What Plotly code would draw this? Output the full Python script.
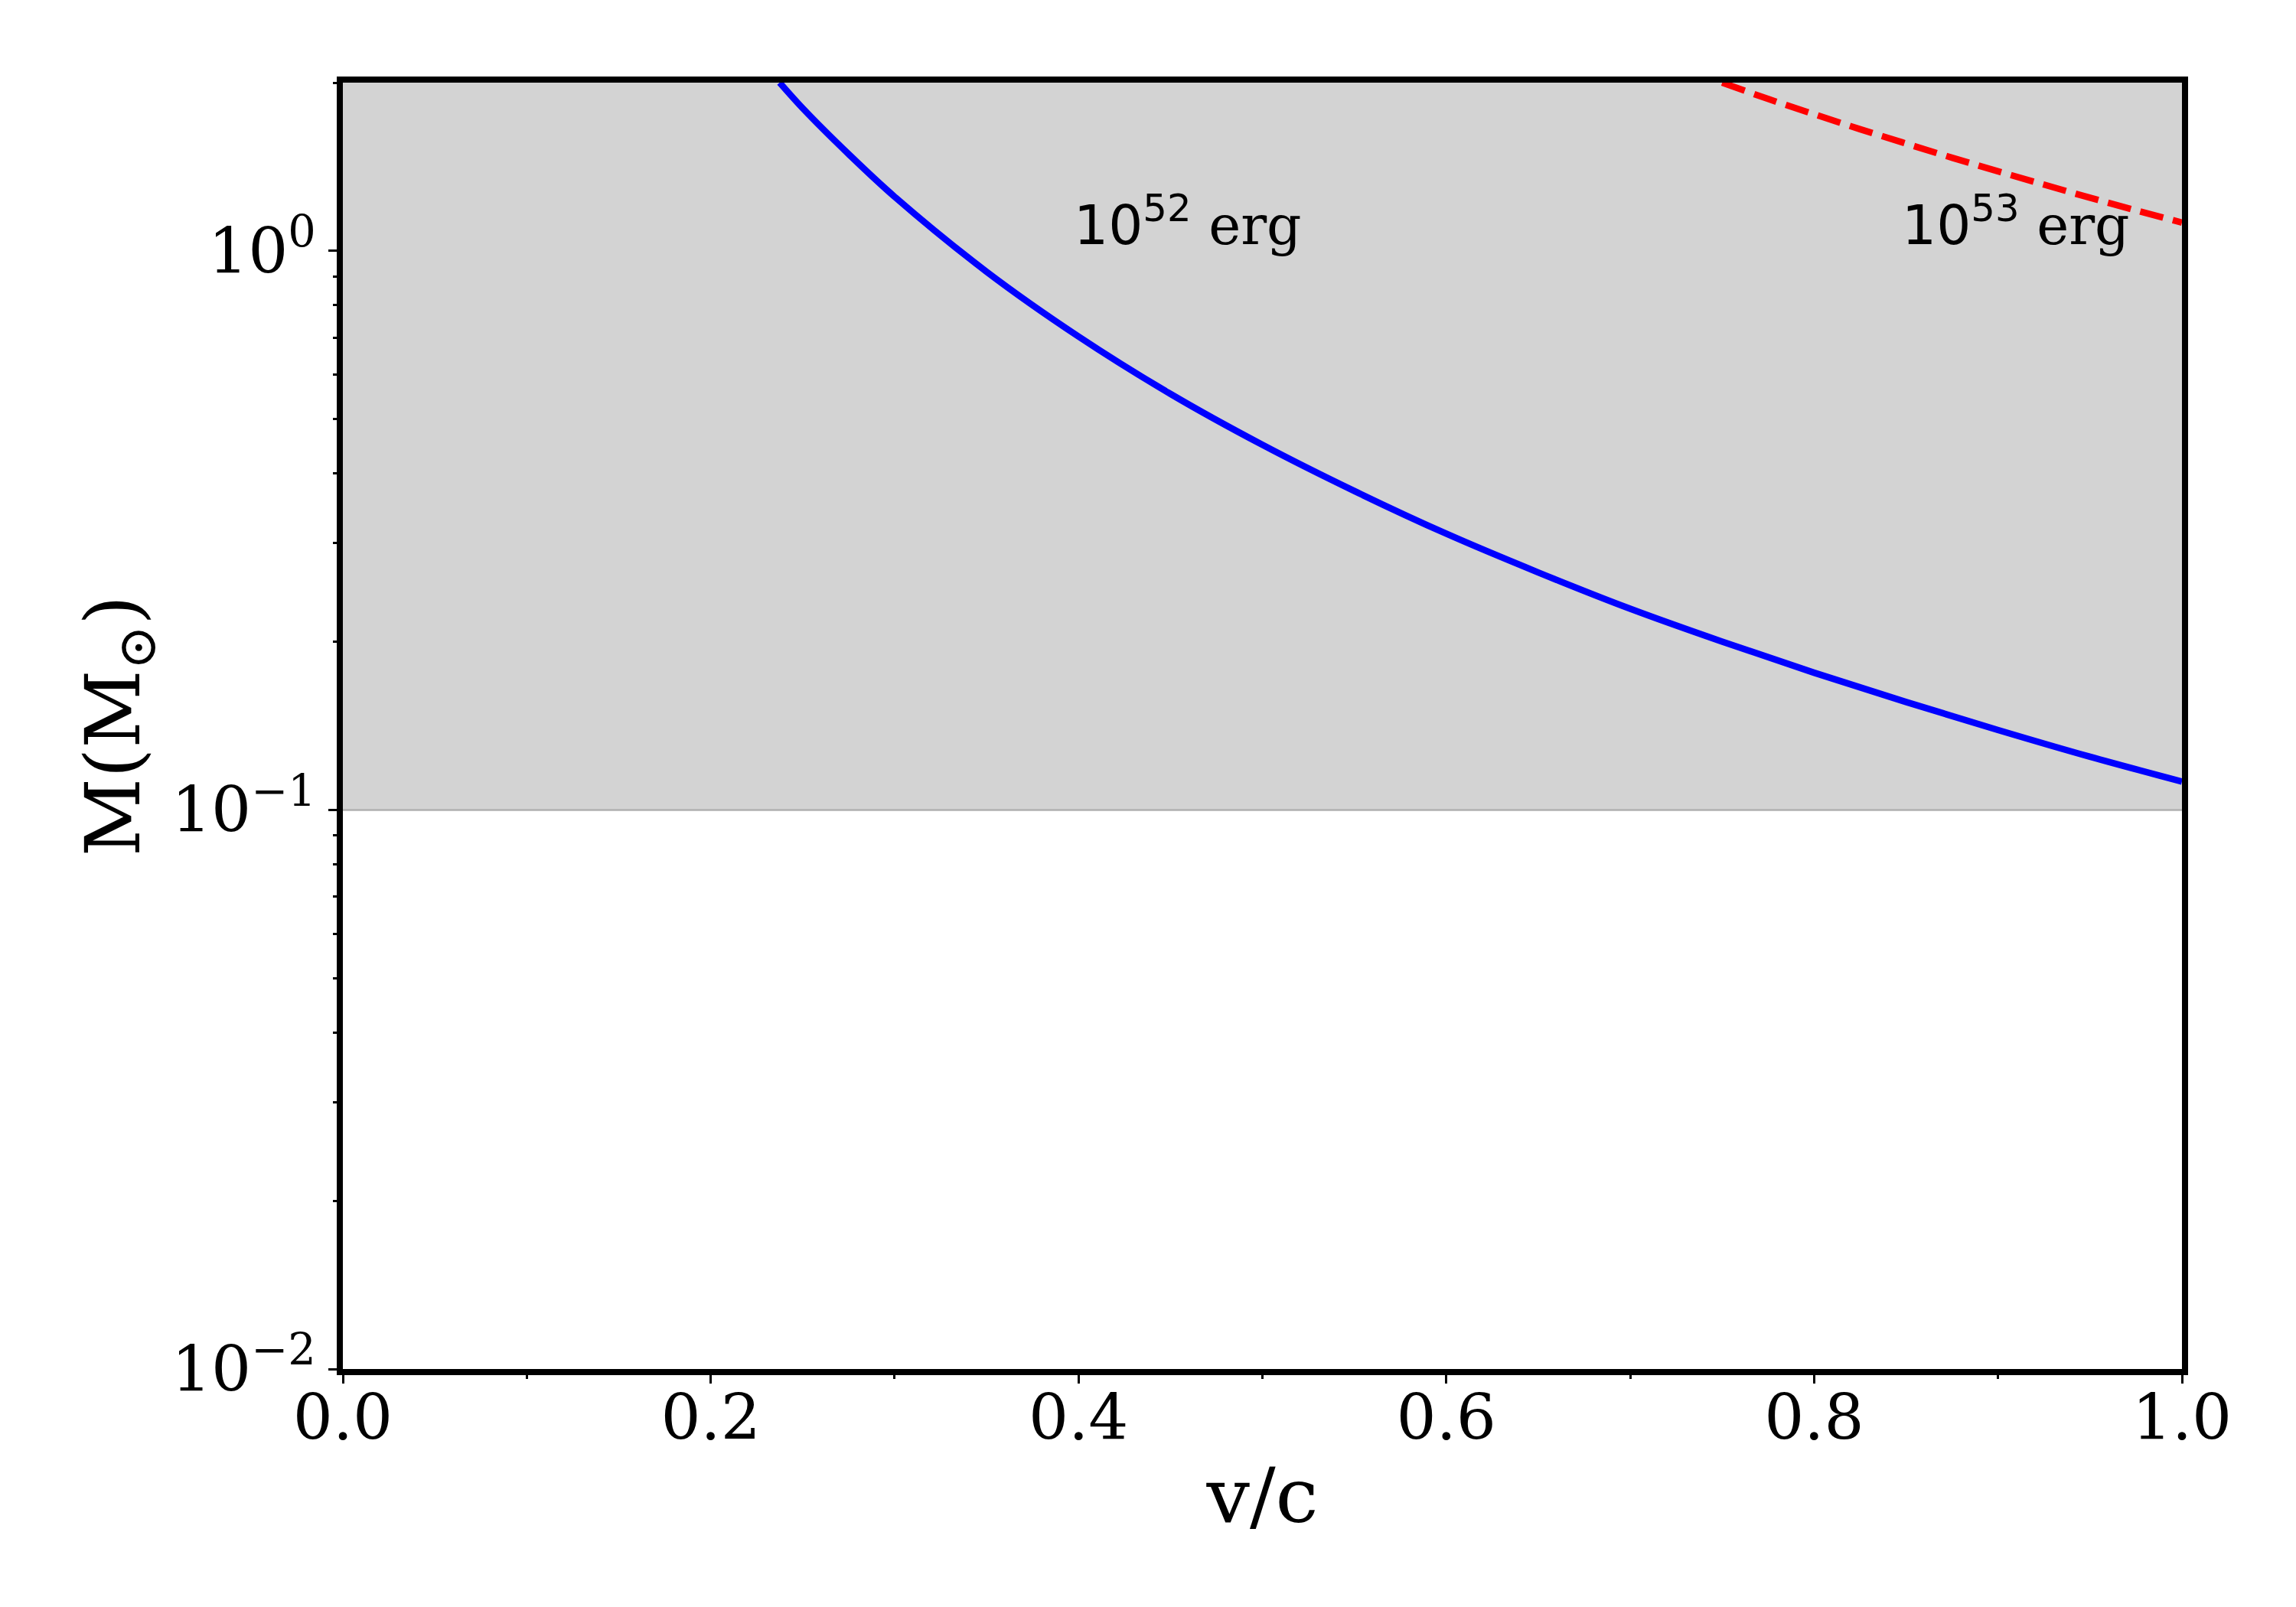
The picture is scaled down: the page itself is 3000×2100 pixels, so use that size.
import math

import plotly.graph_objects as go

# values
v_52 = [0.2375, 0.25, 0.275, 0.3, 0.35, 0.4, 0.45, 0.5, 0.55, 0.6, 0.65, 0.7, 0.75, 0.8, 0.85, 0.9, 0.95, 1.0]
m_52 = [2.0, 1.80, 1.49, 1.25, 0.918, 0.703, 0.555, 0.450, 0.372, 0.312, 0.266, 0.229, 0.200, 0.176, 0.156, 0.139, 0.1245, 0.1124]

v_53 = [0.75, 0.775, 0.8, 0.825, 0.85, 0.875, 0.9, 0.925, 0.95, 0.975, 1.0]
m_53 = [2.0, 1.87, 1.756, 1.651, 1.556, 1.468, 1.388, 1.314, 1.245, 1.182, 1.124]

# shaded band
band_x = [0.0, 1.0, 1.0, 0.0]
band_y = [0.1, 0.1, 2.0, 2.0]

labels = ["10<sup>52</sup>", "10<sup>53</sup>"]
label_x = [0.4, 0.85]
label_y = [1.0, 1.0]

x_ticks = [0.0, 0.2, 0.4, 0.6, 0.8, 1.0]
x_ticktext = ["0.0", "0.2", "0.4", "0.6", "0.8", "1.0"]
x_minor = [0.1, 0.3, 0.5, 0.7, 0.9]
y_ticks = [0.01, 0.1, 1.0]
y_ticktext = ["10<sup>\u22122</sup>", "10<sup>\u22121</sup>", "10<sup>0</sup>"]
y_minor = [0.02, 0.03, 0.04, 0.05, 0.06, 0.07, 0.08, 0.09,
           0.2, 0.3, 0.4, 0.5, 0.6, 0.7, 0.8, 0.9, 2.0]

serif = "DejaVu Serif"

fig = go.Figure()

fig.add_trace(go.Scatter(
    x=band_x, y=band_y, fill="toself", fillcolor="#d3d3d3",
    mode="lines", line=dict(width=0), hoverinfo="skip", showlegend=False,
))
fig.add_trace(go.Scatter(
    x=band_x[:2], y=band_y[:2], mode="lines",
    line=dict(color="#b0b0b0", width=2.5), showlegend=False,
))
fig.add_trace(go.Scatter(
    x=v_52, y=m_52, mode="lines", line=dict(color="#0000ff", width=8.5, shape="spline"),
    showlegend=False,
))
fig.add_trace(go.Scatter(
    x=v_53, y=m_53, mode="lines",
    line=dict(color="#ff0000", width=8.5, dash="31px,13px", shape="spline"),
    showlegend=False,
))

# annotations on a log axis take log10 positions
for txt, lx, ly in zip(labels, label_x, label_y):
    fig.add_annotation(
        x=lx, y=math.log10(ly), yref="y", xref="x",
        text='<span style="font-family:DejaVu Sans">' + txt + "</span> erg",
        showarrow=False, xanchor="left", yanchor="bottom", xshift=-8, yshift=-10,
        font=dict(family=serif, size=71, color="black"),
    )

fig.update_layout(
    width=3000, height=2100,
    margin=dict(l=440, r=157, t=100, b=319),
    paper_bgcolor="white", plot_bgcolor="white",
    font=dict(family=serif, size=82, color="black"),
    showlegend=False,
)

axis_style = dict(
    showline=True, linecolor="black", linewidth=7.5, mirror=True,
    showgrid=False, zeroline=False,
    ticks="outside", ticklen=11, tickwidth=3.3, tickcolor="black",
    tickfont=dict(family=serif, size=82, color="black"),
)

fig.update_xaxes(
    range=[0, 1], tickmode="array", tickvals=x_ticks, ticktext=x_ticktext,
    ticklabelstandoff=-25,
    minor=dict(tickmode="array", tickvals=x_minor, ticks="outside", ticklen=5,
               tickwidth=2.5, tickcolor="black", showgrid=False),
    title=dict(text="v/c", font=dict(family=serif, size=100), standoff=23),
    **axis_style,
)
fig.update_yaxes(
    type="log", range=[-2, 0.30103], tickmode="array", tickvals=y_ticks, ticktext=y_ticktext,
    minor=dict(tickmode="array", tickvals=y_minor, ticks="outside", ticklen=5,
               tickwidth=2.5, tickcolor="black", showgrid=False),
    title=dict(text="M(M<sub>\u2299</sub>)", font=dict(family=serif, size=100), standoff=11),
    **axis_style,
)

fig.write_html("out.html")
